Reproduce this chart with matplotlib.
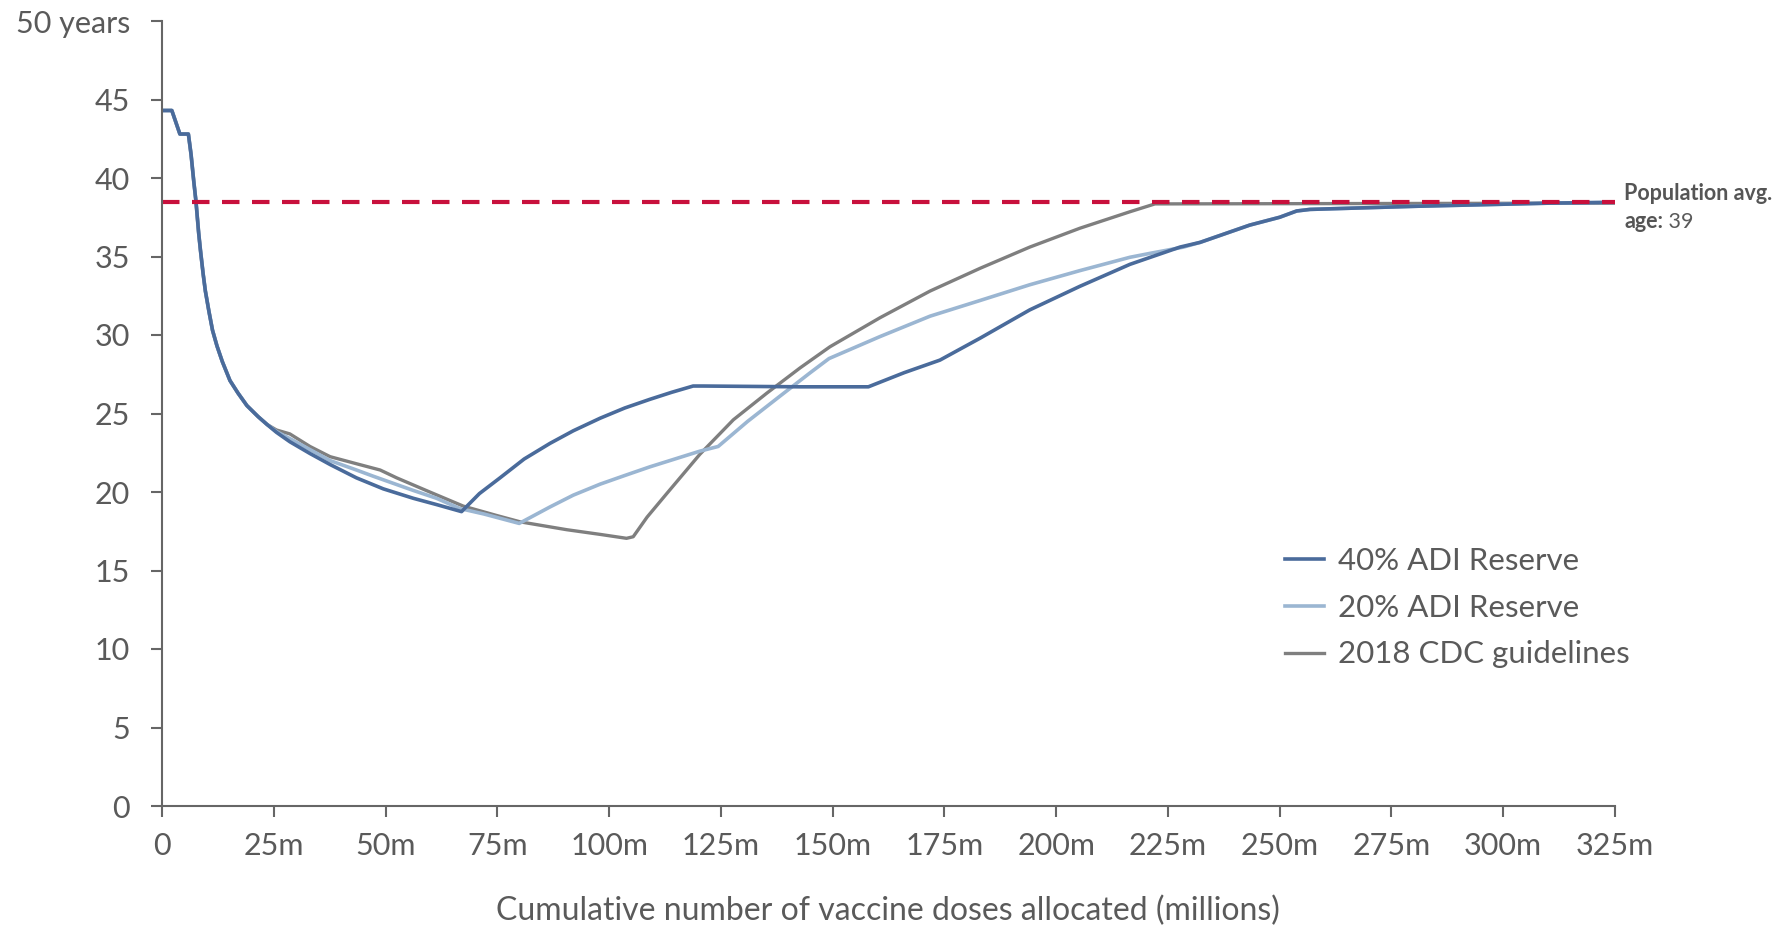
import matplotlib
matplotlib.use('Agg')
import matplotlib.pyplot as plt
import numpy as np

plt.rcParams['font.family'] = ['Lato', 'DejaVu Sans']

# ---- data (millions of doses, median age in years) ----
x_head = [0, 2.2, 4.0, 5.9, 6.5, 7.1, 7.6, 8.2, 8.6, 9.2, 9.7, 10.5, 11.3, 12.3, 13.5,
          15.2, 17.0, 19.0, 21.5, 23.5]
y_head = [44.3, 44.3, 42.8, 42.8, 41.5, 39.8, 38.5, 36.5, 35.4, 33.9, 32.8, 31.5, 30.3, 29.3, 28.3,
          27.1, 26.3, 25.5, 24.8, 24.3]

x_40 = x_head + [25.6, 28.6, 33.1, 37.6, 43.5, 49.5, 56.2, 61.4, 67.0, 71.0, 75.6, 81.0, 86.8, 92.0,
                 98.0, 103.5, 109.1, 114.0, 118.8, 121.1, 142.7, 158.0, 166.0, 174.0, 183.0,
                 194.1, 205.3, 216.5, 227.7, 232.2, 243.3, 250.0, 253.8, 256.8, 280.6, 310.5, 325]
y_40 = y_head + [23.8, 23.2, 22.45, 21.75, 20.9, 20.2, 19.6, 19.2, 18.75, 19.9, 20.9, 22.1, 23.1, 23.9,
                 24.7, 25.35, 25.9, 26.35, 26.75, 26.75, 26.7, 26.7, 27.6, 28.4, 29.8,
                 31.6, 33.1, 34.5, 35.6, 35.9, 37.0, 37.5, 37.9, 38.0, 38.2, 38.4, 38.45]

x_20 = x_head + [25.6, 28.6, 33.1, 37.6, 43.5, 47.3, 56.2, 61.4, 66.6, 72.0, 79.9, 86.8, 92.0,
                 98.0, 103.5, 109.1, 120.3, 124.4, 131.0, 138.2, 145.0, 149.2, 160.6, 171.8,
                 183.0, 194.1, 205.3, 216.5, 221.0, 228.5, 232.2, 243.3, 250.0, 253.8, 256.8,
                 280.6, 310.5, 325]
y_20 = y_head + [23.85, 23.4, 22.7, 22.0, 21.4, 21.0, 20.1, 19.6, 18.95, 18.6, 18.0, 19.05, 19.8,
                 20.5, 21.05, 21.6, 22.6, 22.9, 24.5, 26.1, 27.6, 28.5, 29.9, 31.2,
                 32.2, 33.2, 34.1, 34.95, 35.2, 35.6, 35.9, 37.0, 37.5, 37.9, 38.0,
                 38.2, 38.4, 38.45]

x_cdc = x_head + [25.6, 28.6, 33.1, 37.6, 43.5, 48.8, 52.5, 59.9, 67.4, 74.9, 80.1, 90.5, 98.0,
                  103.9, 105.4, 108.5, 112.9, 120.3, 127.8, 135.3, 142.7, 149.4, 160.6, 171.8,
                  183.0, 194.1, 205.3, 216.5, 222.1, 325]
y_cdc = y_head + [23.95, 23.7, 22.9, 22.25, 21.8, 21.4, 20.9, 20.0, 19.1, 18.5, 18.1, 17.6, 17.3,
                  17.05, 17.15, 18.4, 19.9, 22.4, 24.6, 26.3, 27.9, 29.25, 31.1, 32.8,
                  34.25, 35.6, 36.8, 37.85, 38.35, 38.4]

pop_avg = 38.5

xticks = np.arange(0, 326, 25)
xlabels = ['0'] + ['%dm' % v for v in xticks[1:]]
yticks = np.arange(0, 51, 5)
ylabels = [str(v) for v in yticks[:-1]] + ['50 years']

# ---- styles ----
c40 = '#4a6b9b'
c20 = '#9bb6d2'
ccdc = '#7f7f7f'
cred = '#c8103c'
txt = '#5a5a5a'
axc = '#666666'

fig = plt.figure(figsize=(17.92, 9.27), dpi=100)
ax = fig.add_axes([162/1792, 121/927, 1453/1792, 785/927])

l_cdc, = ax.plot(x_cdc, y_cdc, color=ccdc, linewidth=2.4, label='2018 CDC guidelines')
l_20, = ax.plot(x_20, y_20, color=c20, linewidth=2.6, label='20% ADI Reserve')
l_40, = ax.plot(x_40, y_40, color=c40, linewidth=2.6, label='40% ADI Reserve')
ax.axhline(pop_avg, color=cred, linewidth=3.0, dashes=(4.2, 3.0), zorder=5)

ax.set_xlim(0, 325)
ax.set_ylim(0, 50)
ax.set_xticks(xticks)
ax.set_xticklabels(xlabels)
ax.set_yticks(yticks)
ax.set_yticklabels(ylabels)

for s in ['top', 'right']:
    ax.spines[s].set_visible(False)
for s in ['left', 'bottom']:
    ax.spines[s].set_color(axc)
    ax.spines[s].set_linewidth(1.5)
ax.spines['left'].set_zorder(6)
ax.tick_params(axis='both', colors=axc, length=8, width=1.5, labelsize=22, labelcolor=txt)
ax.tick_params(axis='y', pad=15)
ax.tick_params(axis='x', pad=11)

fig.text(888/1792, 1 - 911/927, 'Cumulative number of vaccine doses allocated (millions)',
         ha='center', va='center', fontsize=23, color=txt)

leg = ax.legend(handles=[l_40, l_20, l_cdc], loc='upper left',
                bbox_to_anchor=(1285/1792, 1 - 547/927), bbox_transform=fig.transFigure,
                frameon=False, fontsize=22.5, handlelength=1.25, handletextpad=0.45,
                labelspacing=0.6, borderpad=0, borderaxespad=0)
for t in leg.get_texts():
    t.set_color(txt)

fig.text(1624/1792, 1 - 194/927, 'Population avg.', ha='left', va='center',
         fontsize=15.5, fontweight='bold', color='#555555')
t_age = fig.text(1624/1792, 1 - 222/927, 'age:', ha='left', va='center',
                 fontsize=15.5, fontweight='bold', color='#555555')
ax.annotate(' 39', xy=(1, 0.5), xycoords=t_age, ha='left', va='center',
            fontsize=15.5, color=txt, annotation_clip=False)

fig.savefig('out.png', dpi=100)
